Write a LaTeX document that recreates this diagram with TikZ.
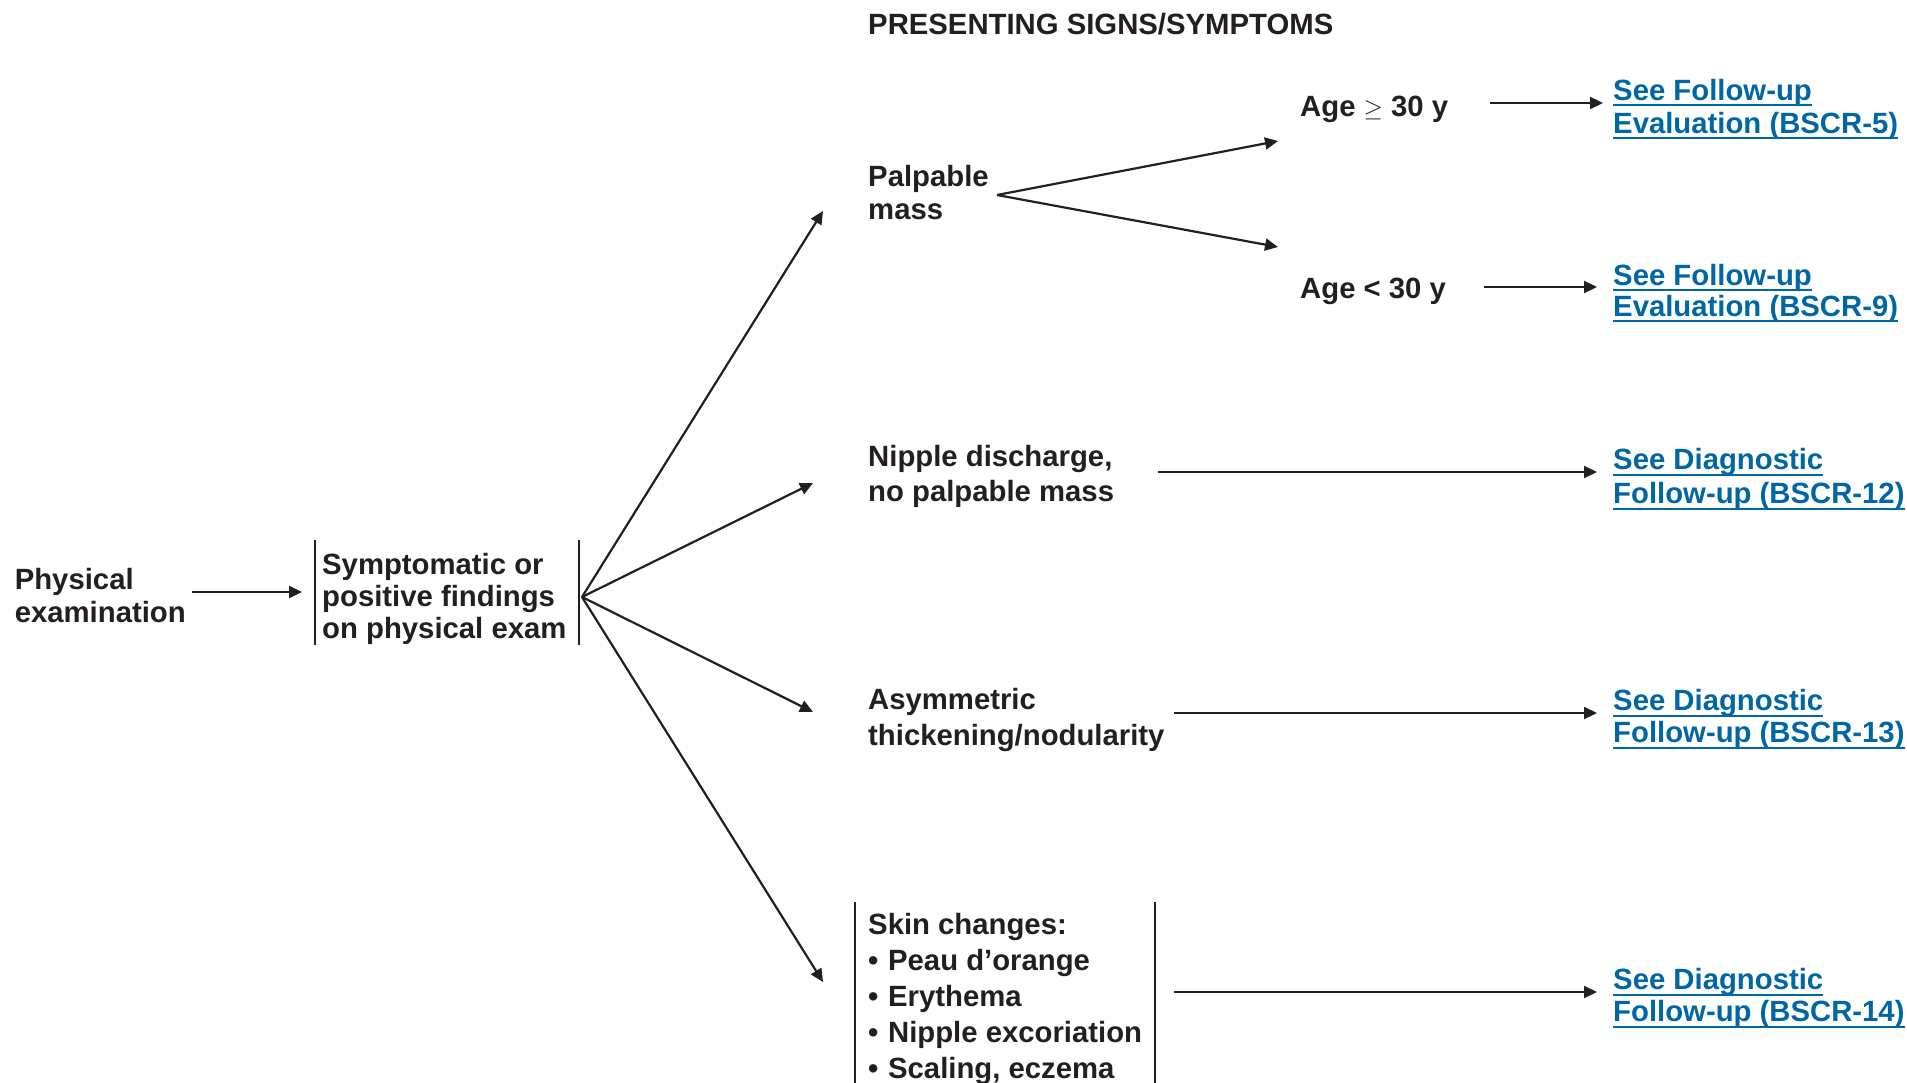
\documentclass[tikz,border=0pt]{standalone}
\usepackage{fontspec}
\setmainfont{Liberation Sans}
\usetikzlibrary{arrows.meta}
\definecolor{ink}{HTML}{231F20}
\definecolor{linkblue}{HTML}{0066A4}
% underlined link text: a 2pt rule set 4pt below the baseline
\newcommand{\lnkline}[1]{\leavevmode\setbox0\hbox{#1}%
  \rlap{\vrule height -4pt depth 6pt width \wd0}\box0}
\newcommand{\bul}{•\hspace{0.33em}}

\begin{document}
% multi-line nodes are placed by the baseline of their last line
\begin{tikzpicture}[x=1pt,y=-1pt,
  txt/.style={inner sep=0pt, anchor=base west, align=left, text=ink,
    font=\fontsize{29.3}{#1}\selectfont\bfseries},
  txt/.default=33,
  link/.style={txt=#1, text=linkblue},
  link/.default=33,
  arr/.style={draw=ink, line width=2.2pt, -{Triangle[length=13pt,width=12pt]}},
  edge/.style={draw=ink, line width=2.2pt}]
\useasboundingbox (0,0) rectangle (1907,1083);

% heading
\node[txt] (head) at (868,35) {PRESENTING SIGNS/SYMPTOMS};

% start of the pathway
\node[txt] (phys) at (14.6,622.5) {Physical\\examination};
\node[minimum width=264pt, minimum height=105pt, inner sep=0pt] (symbox) at (447,592.5) {};
\node[txt=32] (sym) at (322,638.5) {Symptomatic or\\positive findings\\on physical exam};
\draw[edge] (symbox.north west) -- (symbox.south west);
\draw[edge] (symbox.north east) -- (symbox.south east);
\coordinate (a0) at (192,592);
\coordinate (a1) at (302,592);
\draw[arr] (a0) -- (a1);

% fan of presenting signs
\coordinate (fan) at (582,597);
\coordinate (f1) at (823,211);
\coordinate (f2) at (813,483);
\coordinate (f3) at (813,712);
\coordinate (f4) at (823,982);
\foreach \e in {f1,f2,f3,f4} \draw[arr] (fan) -- (\e);

% palpable mass and its age split
\node[txt] (pm) at (868,219.5) {Palpable\\mass};
\coordinate (fork) at (997,195);
\coordinate (k1) at (1278,141);
\coordinate (k2) at (1278,247);
\draw[arr] (fork) -- (k1);
\draw[arr] (fork) -- (k2);

\node[txt] (old) at (1300,116.5) {Age $\geq$ 30 y};
\node[txt] (young) at (1300,298.5) {Age < 30 y};
\node[link] (l5) at (1613,133.5) {\lnkline{See Follow-up}\\\lnkline{Evaluation (BSCR-5)}};
\node[link=31] (l9) at (1613,316.5) {\lnkline{See Follow-up}\\\lnkline{Evaluation (BSCR-9)}};
\coordinate (o0) at (1490,103);
\coordinate (o1) at (1603,103);
\draw[arr] (o0) -- (o1);
\coordinate (y0) at (1484,287);
\coordinate (y1) at (1597,287);
\draw[arr] (y0) -- (y1);

% nipple discharge
\node[txt=35] (nip) at (868,501.5) {Nipple discharge,\\no palpable mass};
\node[link=34] (l12) at (1613,503.5) {\lnkline{See Diagnostic}\\\lnkline{Follow-up (BSCR-12)}};
\coordinate (n0) at (1158,472);
\coordinate (n1) at (1597,472);
\draw[arr] (n0) -- (n1);

% asymmetric thickening
\node[txt=36] (asym) at (868,745.5) {Asymmetric\\thickening/nodularity};
\node[link=32] (l13) at (1613,742.5) {\lnkline{See Diagnostic}\\\lnkline{Follow-up (BSCR-13)}};
\coordinate (t0) at (1174,713);
\coordinate (t1) at (1597,713);
\draw[arr] (t0) -- (t1);

% skin changes
\node[txt=36] (skin) at (868,1078.5) {Skin changes:\\
  \bul Peau d’orange\\\bul Erythema\\\bul Nipple excoriation\\\bul Scaling, eczema};
\coordinate (s1) at (855,902);
\coordinate (s2) at (855,1083);
\coordinate (s3) at (1155,902);
\coordinate (s4) at (1155,1083);
\draw[edge] (s1) -- (s2);
\draw[edge] (s3) -- (s4);
\node[link=32] (l14) at (1613,1021.5) {\lnkline{See Diagnostic}\\\lnkline{Follow-up (BSCR-14)}};
\coordinate (c0) at (1174,992);
\coordinate (c1) at (1597,992);
\draw[arr] (c0) -- (c1);
\end{tikzpicture}
\end{document}
